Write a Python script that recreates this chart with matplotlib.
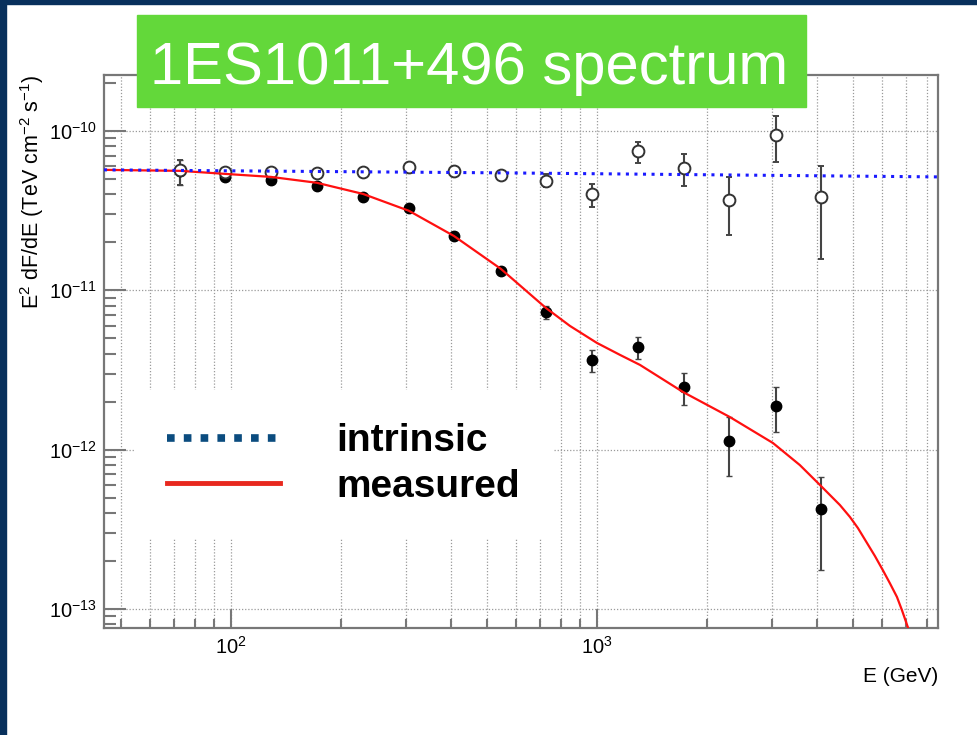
import numpy as np
import matplotlib.pyplot as plt
from matplotlib.lines import Line2D
from matplotlib.patches import Rectangle
from matplotlib.ticker import LogLocator, NullFormatter

plt.rcParams['font.family'] = ['Liberation Sans', 'DejaVu Sans']
plt.rcParams['mathtext.fontset'] = 'custom'
plt.rcParams['mathtext.rm'] = 'Liberation Sans'
plt.rcParams['mathtext.default'] = 'regular'

# энергии бинов (ГэВ)
energy = [72.6, 96.3, 128.6, 171.8, 229.5, 306.4, 406.7, 546.7,
          725.5, 969, 1294, 1729, 2295, 3084, 4093]

# измеренный спектр (чёрные точки)
meas = [5.61e-11, 5.14e-11, 4.93e-11, 4.52e-11, 3.85e-11, 3.29e-11, 2.19e-11, 1.32e-11,
        7.31e-12, 3.65e-12, 4.41e-12, 2.47e-12, 1.13e-12, 1.88e-12, 4.24e-13]
meas_up = [6.58e-11, 5.3e-11, 5.05e-11, 4.62e-11, 3.95e-11, 3.38e-11, 2.26e-11, 1.38e-11,
           7.97e-12, 4.22e-12, 5.09e-12, 3.03e-12, 1.60e-12, 2.47e-12, 6.73e-13]
meas_lo = [4.58e-11, 4.98e-11, 4.81e-11, 4.42e-11, 3.75e-11, 3.2e-11, 2.12e-11, 1.26e-11,
           6.6e-12, 3.07e-12, 3.71e-12, 1.91e-12, 6.83e-13, 1.29e-12, 1.75e-13]

# собственный спектр (пустые точки)
intr = [5.69e-11, 5.53e-11, 5.53e-11, 5.45e-11, 5.53e-11, 5.94e-11, 5.61e-11, 5.29e-11,
        4.85e-11, 4.02e-11, 7.49e-11, 5.86e-11, 3.69e-11, 9.44e-11, 3.85e-11]
intr_up = [6.6e-11, 5.7e-11, 5.7e-11, 5.6e-11, 5.7e-11, 6.1e-11, 5.8e-11, 5.5e-11,
           5.37e-11, 4.65e-11, 8.53e-11, 7.17e-11, 5.14e-11, 1.24e-10, 6.03e-11]
intr_lo = [4.6e-11, 5.35e-11, 5.35e-11, 5.3e-11, 5.35e-11, 5.75e-11, 5.4e-11, 5.1e-11,
           4.45e-11, 3.33e-11, 6.30e-11, 4.52e-11, 2.22e-11, 6.39e-11, 1.57e-11]

# кривые модели
meas_curve_E = [45, 72.6, 96.3, 128.6, 171.8, 229.5, 306.4, 406.7, 546.7, 725.5, 844,
                1000, 1156, 1311, 1718, 2309, 3027, 3585, 4068, 4613, 4913, 5166,
                5749, 6045, 6318, 6604, 6813, 7073]
meas_curve_F = [5.69e-11, 5.61e-11, 5.37e-11, 5.14e-11, 4.72e-11, 4.02e-11, 3.15e-11,
                2.19e-11, 1.36e-11, 7.74e-12, 5.97e-12, 4.67e-12, 3.93e-12, 3.40e-12,
                2.30e-12, 1.60e-12, 1.10e-12, 8.0e-13, 6.0e-13, 4.49e-13, 3.78e-13,
                3.22e-13, 2.15e-13, 1.75e-13, 1.45e-13, 1.19e-13, 9.85e-14, 7.69e-14]
intr_curve_E = [45, 543, 8545]
intr_curve_F = [5.69e-11, 5.45e-11, 5.14e-11]

navy = '#08305c'
grey = '#777777'

fig = plt.figure(figsize=(9.78, 7.35), dpi=100)
fig.add_artist(Rectangle((0, 1 - 4 / 735), 1, 4 / 735, transform=fig.transFigure,
                         color=navy, zorder=10))
fig.add_artist(Rectangle((0, 0), 6 / 978, 1, transform=fig.transFigure,
                         color=navy, zorder=10))

ax = fig.add_axes([104 / 978, 107 / 735, 834 / 978, 553 / 735])
ax.set_xscale('log')
ax.set_yscale('log')
ax.set_xlim(45, 8550)
ax.set_ylim(7.6e-14, 2.24e-10)

ax.xaxis.set_major_locator(LogLocator(base=10, numticks=10))
ax.xaxis.set_minor_locator(LogLocator(base=10, subs=np.arange(2, 10), numticks=20))
ax.xaxis.set_minor_formatter(NullFormatter())
ax.yaxis.set_major_locator(LogLocator(base=10, numticks=10))
ax.yaxis.set_minor_locator(LogLocator(base=10, subs=np.arange(2, 10), numticks=20))
ax.yaxis.set_minor_formatter(NullFormatter())

grid_kw = dict(color='#9a9a9a', linestyle=(0, (1, 1.5)), linewidth=0.9)
ax.grid(True, which='both', axis='x', **grid_kw)
ax.grid(True, which='major', axis='y', **grid_kw)
ax.set_axisbelow(True)

for s in ax.spines.values():
    s.set_color(grey)
    s.set_linewidth(1.6)

ax.tick_params(axis='both', which='both', direction='in', colors=grey,
               labelcolor='black', labelsize=14.5, top=False, right=False, width=1.5)
ax.tick_params(axis='y', which='major', length=16, pad=5)
ax.tick_params(axis='y', which='minor', length=8.5)
ax.tick_params(axis='x', which='major', length=14, pad=6)
ax.tick_params(axis='x', which='minor', length=6.5)

ax.set_xlabel('E (GeV)', loc='right', fontsize=15, labelpad=6)
ax.set_ylabel('E$^{2}$ dF/dE (TeV cm$^{-2}$ s$^{-1}$)', loc='top', fontsize=15.5, labelpad=2)

E = np.array(energy)
m = np.array(meas)
i = np.array(intr)
ax.errorbar(E, m, yerr=[m - np.array(meas_lo), np.array(meas_up) - m], fmt='o',
            color='black', ms=7.5, ecolor='#444444', elinewidth=1.5, capsize=2, zorder=3)
ax.errorbar(E, i, yerr=[i - np.array(intr_lo), np.array(intr_up) - i], fmt='o',
            mfc='white', mec='#333333', mew=1.4, ms=8.5, ecolor='#444444',
            elinewidth=1.5, capsize=2, zorder=3)

ax.plot(meas_curve_E, meas_curve_F, color='#ff1010', lw=1.6, zorder=4)
ax.plot(intr_curve_E, intr_curve_F, color='#1a1aff', lw=2.2,
        linestyle=(0, (1, 1.8)), zorder=4)

handles = [Line2D([], [], color='#0b4c7f', lw=5.5, linestyle=(0, (1, 1.2)),
                  dash_capstyle='butt'),
           Line2D([], [], color='#e8281e', lw=3.5)]
leg = ax.legend(handles, ['intrinsic', 'measured'], loc='upper left',
                bbox_to_anchor=(0.036, 0.43), borderaxespad=0, frameon=True,
                framealpha=1, facecolor='white', edgecolor='none', fancybox=False,
                prop={'weight': 'bold', 'size': 28}, handlelength=2.9,
                handletextpad=1.45, labelspacing=0.25, borderpad=0.85)
leg.set_zorder(2)

# заголовок в зелёной плашке
fig.add_artist(Rectangle((137 / 978, 1 - 107 / 735), 669 / 978, 92 / 735,
                         transform=fig.transFigure, color='#63d83a', zorder=11))
fig.text(469 / 978, 1 - 84 / 735, '1ES1011+496 spectrum', color='white',
         fontsize=43, ha='center', va='baseline', zorder=12)

plt.savefig('out.png', dpi=100)
plt.close()
